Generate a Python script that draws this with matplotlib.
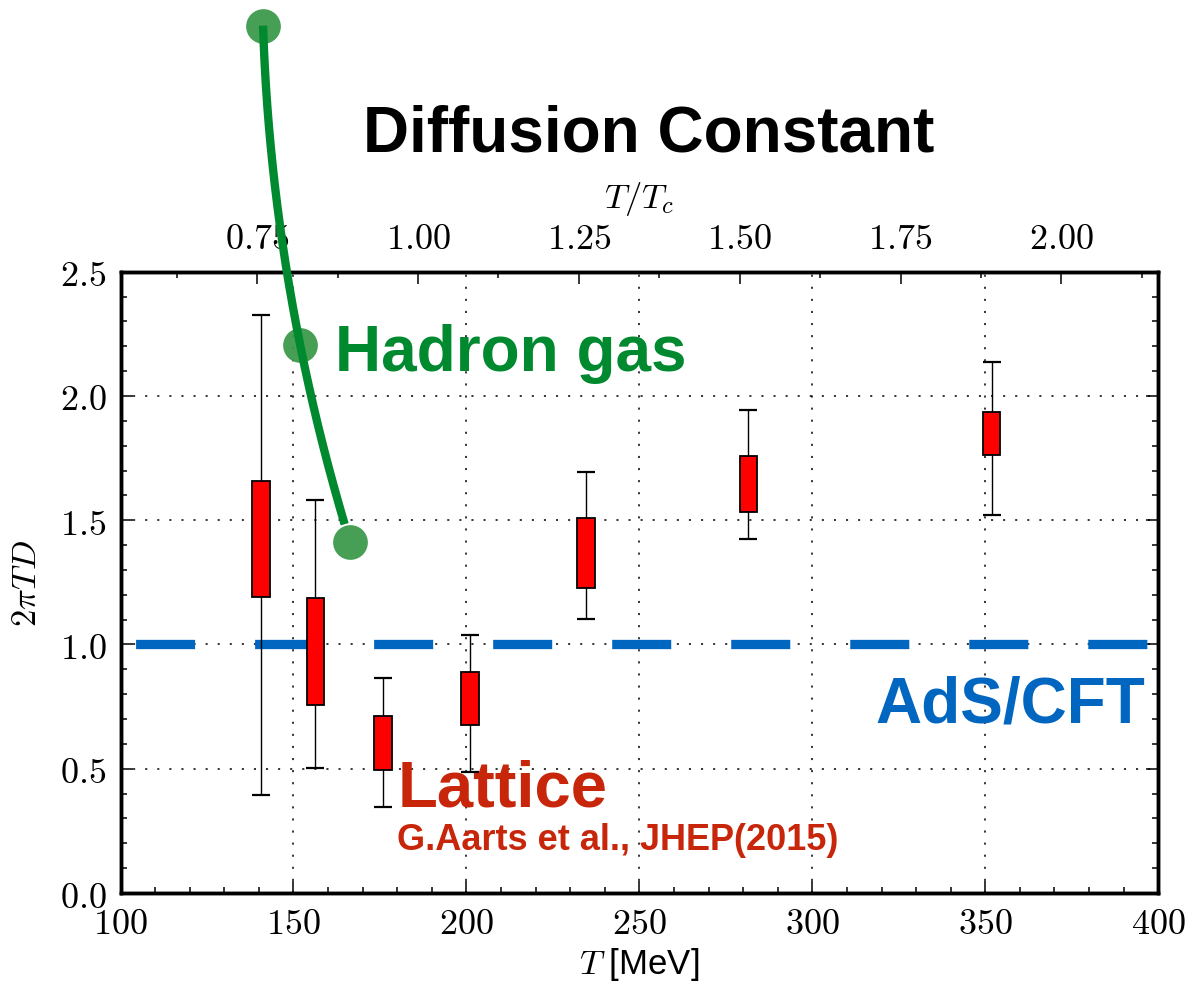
import numpy as np
import matplotlib
matplotlib.use("Agg")
import matplotlib.pyplot as plt
from matplotlib import ticker

plt.rcParams['mathtext.fontset'] = 'cm'
plt.rcParams['lines.scale_dashes'] = False

# critical temperature used for the top axis (MeV)
Tc = 186.0

# lattice QCD boxes (G. Aarts et al.)
lat_T = [140.6, 156.3, 175.9, 201.0, 234.6, 281.5, 351.9]
lat_box_lo = [1.190, 0.757, 0.495, 0.675, 1.229, 1.532, 1.761]
lat_box_hi = [1.658, 1.189, 0.714, 0.890, 1.508, 1.758, 1.935]
lat_err_lo = [0.396, 0.505, 0.348, 0.487, 1.102, 1.426, 1.521]
lat_err_hi = [2.324, 1.582, 0.866, 1.037, 1.694, 1.944, 2.137]

# hadron gas points
hrg_T = [141.2, 151.9, 166.3]
hrg_D = [3.49, 2.207, 1.414]

# AdS/CFT value
ads_D = 1.0

green = '#00892f'
green_dot = '#3d9a4c'
blue = '#0066c0'
red_txt = '#c8260a'
sans = 'Liberation Sans'

fig = plt.figure(figsize=(11.9, 9.87), dpi=100)
ax = fig.add_axes([0.1013, 0.0942, 0.872, 0.6295])
ax.set_xlim(100, 400)
ax.set_ylim(0, 2.5)

# grid
ax.grid(True, which='major', color='black', lw=1.1, ls=(0, (1.5, 7.2)))
ax.set_axisbelow(True)

# AdS/CFT dashed line
ax.axhline(ads_D, color=blue, lw=6.7, ls=(75.2, (42.5, 43.2)), zorder=2)

# lattice boxes + whiskers
lo = np.array(lat_box_lo)
hi = np.array(lat_box_hi)
ax.vlines(lat_T, lat_err_lo, lat_err_hi, color='black', lw=1.0, zorder=3)
ax.hlines(lat_err_lo, np.array(lat_T) - 2.6, np.array(lat_T) + 2.6, color='black', lw=1.6, zorder=3)
ax.hlines(lat_err_hi, np.array(lat_T) - 2.6, np.array(lat_T) + 2.6, color='black', lw=1.6, zorder=3)
ax.bar(lat_T, hi - lo, bottom=lo, width=5.0, color='#ff0000', edgecolor='black',
       lw=1.3, zorder=4)

# hadron gas curve
coef = np.polyfit(hrg_D, hrg_T, 2)
vv = np.linspace(hrg_D[0], hrg_D[-1] + 0.07, 200)
ax.plot(hrg_T, hrg_D, 'o', ms=25, color=green_dot, mec='none', alpha=0.95,
        clip_on=False, zorder=5)
ax.plot(np.polyval(coef, vv), vv, color=green, lw=6, clip_on=False, zorder=6,
        solid_capstyle='butt')

# annotations
ax.text(162.0, 2.105, 'Hadron gas', color=green, fontsize=46, fontweight='bold',
        family=sans, ha='left', va='baseline', zorder=7)
ax.text(396.3, 0.69, 'AdS/CFT', color=blue, fontsize=46, fontweight='bold',
        family=sans, ha='right', va='baseline', zorder=7)
ax.text(180.0, 0.352, 'Lattice', color=red_txt, fontsize=47, fontweight='bold',
        family=sans, ha='left', va='baseline', zorder=7)
ax.text(179.8, 0.177, 'G.Aarts et al., JHEP(2015)', color=red_txt, fontsize=26,
        fontweight='bold', family=sans, ha='left', va='baseline', zorder=7)

# axes styling
ax.xaxis.set_major_locator(ticker.MultipleLocator(50))
ax.xaxis.set_minor_locator(ticker.MultipleLocator(10))
ax.yaxis.set_major_locator(ticker.MultipleLocator(0.5))
ax.yaxis.set_minor_locator(ticker.MultipleLocator(0.1))
ax.xaxis.set_major_formatter(ticker.FuncFormatter(lambda v, p: f'${v:.0f}$'))
ax.yaxis.set_major_formatter(ticker.FuncFormatter(lambda v, p: f'${v:.1f}$'))
ax.tick_params(which='both', direction='in', left=True, right=True, bottom=True,
               top=False, labelsize=26, width=1.1)
ax.tick_params(axis='x', pad=9)
ax.tick_params(axis='y', pad=10)
ax.tick_params(which='major', length=8.5)
ax.tick_params(which='minor', length=4)
for s in ax.spines.values():
    s.set_linewidth(2.5)

ax.set_xlabel('$T$ [MeV]', fontsize=25, family=sans, labelpad=4)
ax.set_ylabel(r'$2\pi TD$', fontsize=25, labelpad=12)

# top axis in units of T/Tc
ax2 = ax.twiny()
ax2.set_xlim(100 / Tc, 400 / Tc)
ax2.xaxis.set_major_locator(ticker.MultipleLocator(0.25))
ax2.xaxis.set_minor_locator(ticker.MultipleLocator(0.125))
ax2.xaxis.set_major_formatter(ticker.FuncFormatter(lambda v, p: f'${v:.2f}$'))
ax2.tick_params(which='both', direction='in', labelsize=26, width=1.1, pad=12)
ax2.tick_params(which='major', length=8.5)
ax2.tick_params(which='minor', length=4)
ax2.set_xlabel('$T/T_c$', fontsize=25, labelpad=10)
for s in ax2.spines.values():
    s.set_linewidth(2.5)

# keep the main axes (and green curve) drawn above the twin
ax.set_zorder(ax2.get_zorder() + 1)
ax.patch.set_visible(False)

fig.text(0.545, 0.846, 'Diffusion Constant', fontsize=46, fontweight='bold',
         family=sans, ha='center', va='baseline')

fig.savefig('out.png', dpi=100, facecolor='white')
